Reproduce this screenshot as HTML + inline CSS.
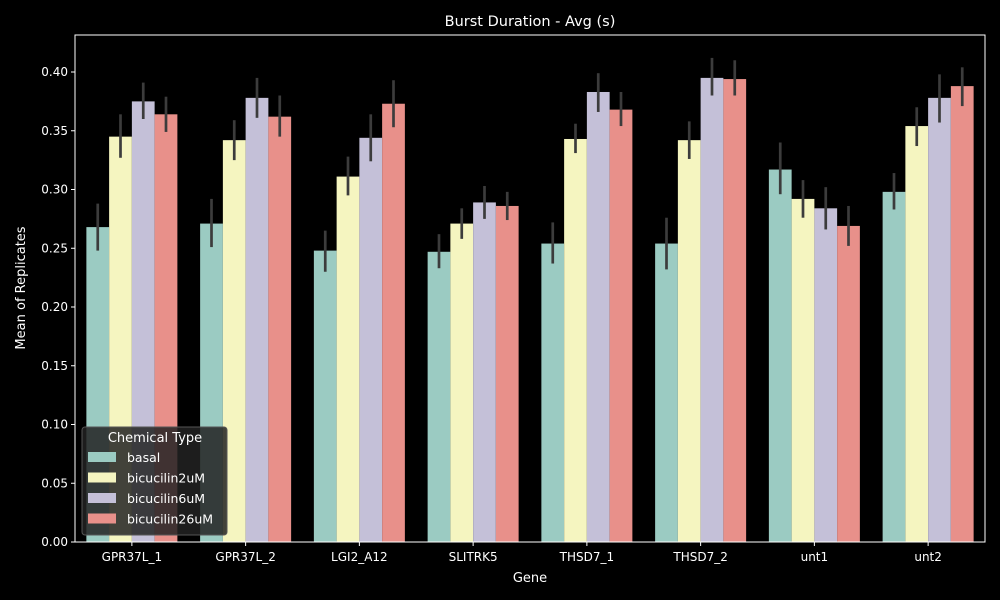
<!DOCTYPE html>
<html><head><meta charset="utf-8"><style>
body{margin:0;background:#000;}
svg{display:block;font-family:"DejaVu Sans","Liberation Sans",sans-serif;}
</style></head><body>
<svg id="chart" width="1000" height="600" viewBox="0 0 1000 600">
<rect x="0" y="0" width="1000" height="600" fill="#000"/>
<text x="530" y="26" fill="#fff" font-size="14.5" text-anchor="middle">Burst Duration - Avg (s)</text>
<g id="bars"></g><g id="errs"></g><g id="axes"></g>
<rect x="75" y="35" width="910" height="507" fill="none" stroke="#fff" stroke-width="1"/>
<text x="530" y="582" fill="#fff" font-size="13" text-anchor="middle">Gene</text>
<text transform="translate(25,288) rotate(-90)" fill="#fff" font-size="13" text-anchor="middle">Mean of Replicates</text>
<g id="legend">
<rect x="82" y="427" width="145" height="108" rx="3" fill="#222" fill-opacity="0.85" stroke="#555"/>
<text x="155" y="442" fill="#fff" font-size="13" text-anchor="middle">Chemical Type</text>
</g>
</svg>
<script>
const genes=["GPR37L_1","GPR37L_2","LGI2_A12","SLITRK5","THSD7_1","THSD7_2","unt1","unt2"];
const seriesNames=["basal","bicucilin2uM","bicucilin6uM","bicucilin26uM"];
const basal=[0.268,0.271,0.248,0.247,0.254,0.254,0.317,0.298];
const bic2=[0.345,0.342,0.311,0.271,0.343,0.342,0.292,0.354];
const bic6=[0.375,0.378,0.344,0.289,0.383,0.395,0.284,0.378];
const bic26=[0.364,0.362,0.373,0.286,0.368,0.394,0.269,0.388];
const basalLo=[0.248,0.251,0.230,0.233,0.237,0.232,0.296,0.283];
const basalHi=[0.288,0.292,0.265,0.262,0.272,0.276,0.340,0.314];
const bic2Lo=[0.327,0.325,0.295,0.258,0.331,0.326,0.276,0.337];
const bic2Hi=[0.364,0.359,0.328,0.284,0.356,0.358,0.308,0.370];
const bic6Lo=[0.360,0.361,0.324,0.275,0.366,0.380,0.266,0.357];
const bic6Hi=[0.391,0.395,0.364,0.303,0.399,0.412,0.302,0.398];
const bic26Lo=[0.349,0.345,0.353,0.274,0.354,0.380,0.252,0.371];
const bic26Hi=[0.379,0.380,0.393,0.298,0.383,0.410,0.286,0.404];
const yTicks=[0,0.05,0.1,0.15,0.2,0.25,0.3,0.35,0.4];
const colors=["#9bcbc2","#f5f5c0","#c4c0d8","#e8908a"];
const vals=[basal,bic2,bic6,bic26],los=[basalLo,bic2Lo,bic6Lo,bic26Lo],his=[basalHi,bic2Hi,bic6Hi,bic26Hi];
const NS="http://www.w3.org/2000/svg";
const X0=75,W=910,Y0=542,H=507,YMAX=0.4315;
const y=v=>Y0-v/YMAX*H;
const gw=W/genes.length,bw=gw*0.8/4;
const x=(g,s)=>X0+gw*g+gw*0.1+bw*s;
function mk(tag,attrs,parent){const e=document.createElementNS(NS,tag);for(const k in attrs)e.setAttribute(k,attrs[k]);document.getElementById(parent).appendChild(e);return e;}
for(let s=0;s<4;s++)for(let g=0;g<genes.length;g++){
 const r=mk("rect",{x:x(g,s),y:y(vals[s][g]),width:bw,height:Y0-y(vals[s][g]),fill:colors[s]},"bars");
 
 
 const l=mk("line",{x1:x(g,s)+bw/2,x2:x(g,s)+bw/2,y1:y(los[s][g]),y2:y(his[s][g]),stroke:"#3c3c3c","stroke-width":2.7},"errs");
 
 
}
genes.forEach((g,i)=>{
 const cx=X0+gw*(i+0.5);
 mk("line",{x1:cx,x2:cx,y1:Y0,y2:Y0+4,stroke:"#fff"},"axes");
 const t=mk("text",{x:cx,y:Y0+19,fill:"#fff","font-size":12,"text-anchor":"middle"},"axes");
 t.textContent=g;
 
 
});
yTicks.forEach(v=>{
 mk("line",{x1:X0-4,x2:X0,y1:y(v),y2:y(v),stroke:"#fff"},"axes");
 const t=mk("text",{x:X0-7,y:y(v)+4,fill:"#fff","font-size":12,"text-anchor":"end"},"axes");
 t.textContent=v.toFixed(2);
 
 
});
seriesNames.forEach((n,i)=>{
 const yy=452+i*20.5;
 const p=mk("rect",{x:88,y:yy,width:28,height:10,fill:colors[i]},"legend");
 
 
 const t=mk("text",{x:127,y:yy+10,fill:"#fff","font-size":12.5},"legend");
 t.textContent=n;
 
 
});
</script>
</body></html>
